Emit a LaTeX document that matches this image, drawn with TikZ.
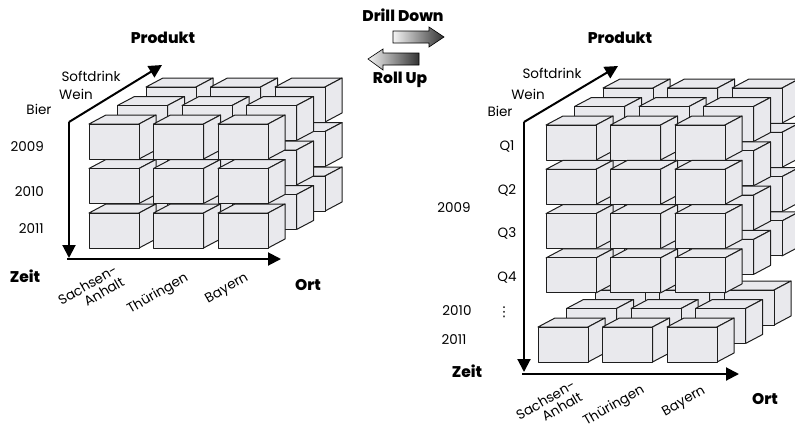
\documentclass[tikz,border=0pt]{standalone}
\usepackage{fontspec}
\setmainfont{Poppins}[BoldFont={Poppins ExtraBold}]
\newfontfamily\symfont{DejaVu Sans}
\usepackage{tikz}
\usetikzlibrary{arrows.meta}
\definecolor{cellgray}{RGB}{233,233,237}
\definecolor{edgegray}{RGB}{30,30,30}

\begin{document}
\begin{tikzpicture}[
				x=1pt, y=-1pt,
				cellface/.style={draw=edgegray, fill=cellgray, line width=1pt, line join=round},
				databox/.pic={
					\draw[cellface] (0,0) -- (17,-9) -- (67,-9) -- (50,0) -- cycle;
					\draw[cellface] (50,0) -- (67,-9) -- (67,26) -- (50,35) -- cycle;
					\draw[cellface] (0,0) rectangle (50,35);
				},
				axis/.style={line width=2pt, -{Triangle[length=13pt,width=13pt]}},
				lbl/.style={font=\fontsize{13.5}{14}\selectfont, inner sep=0pt},
				dimtitle/.style={font=\fontsize{15.5}{18}\selectfont\bfseries, inner sep=0pt},
				city/.style={lbl, rotate=30, align=right},
				flow/.style={draw=black, line width=0.6pt, left color=gray!8, right color=black!80}
				]
				
				\useasboundingbox (0,0) rectangle (795,429);
				\clip (0,0) rectangle (795,429);
				
				% Left cube: layers Softdrink, Wein, Bier (back to front)
				\foreach \l in {2,1,0}
				\foreach \r in {0,1,2}
				\foreach \c in {0,1,2}
				\pic at ({89+64.5*\c+28.5*\l},{124+44.5*\r-18.5*\l}) {databox};
				
				% Right cube: quarters Q1--Q4 of 2009, then 2011
				\foreach \l in {2,1,0} {
					\foreach \r in {0,...,3}
					\foreach \c in {0,1,2}
					\pic at ({546+64.5*\c+28.5*\l},{125+44.3*\r-18.5*\l}) {databox};
					\foreach \c in {0,1,2}
					\pic at ({538+64.5*\c+28.5*\l},{327-18.5*\l}) {databox};
				}
				
				% Axes of the left cube
				\coordinate (lorigin) at (69,122);
				\coordinate (lzeit) at (69,258);
				\coordinate (lprod) at (162,65);
				\coordinate (lcorner) at (67,259);
				\coordinate (lort) at (281,259);
				\draw[axis] (lorigin) -- (lzeit);
				\draw[axis] (lorigin) -- (lprod);
				\draw[axis] (lcorner) -- (lort);
				
				% Axes of the right cube
				\coordinate (rorigin) at (524,122);
				\coordinate (rzeit) at (524,372);
				\coordinate (rprod) at (618,66);
				\coordinate (rcorner) at (522,374);
				\coordinate (rort) at (739,374);
				\draw[axis] (rorigin) -- (rzeit);
				\draw[axis] (rorigin) -- (rprod);
				\draw[axis] (rcorner) -- (rort);
				
				% Labels of the left cube
				\node[dimtitle] (lproduktlbl) at (163,38) {Produkt};
				\node[lbl] (lsoft) at (91,76) {Softdrink};
				\node[lbl] (lwein) at (76,94) {Wein};
				\node[lbl] (lbier) at (39,109) {Bier};
				\node[lbl, anchor=east] (ly09) at (44,147) {2009};
				\node[lbl, anchor=east] (ly10) at (44,192) {2010};
				\node[lbl, anchor=east] (ly11) at (44,229) {2011};
				\node[dimtitle] (lzeitlbl) at (25,276) {Zeit};
				\node[dimtitle] (lortlbl) at (308,285) {Ort};
				\node[city] (lsa) at (91,291) {Sachsen-\\Anhalt};
				\node[city] (lth) at (158,294) {Thüringen};
				\node[city] (lby) at (227,289) {Bayern};
				
				% Drill down / roll up
				\node[dimtitle] (drill) at (403,15) {Drill Down};
				\node[dimtitle] (roll) at (400,80) {Roll Up};
				\shade[flow] (393,31) -- (429,31) -- (429,27) -- (444,37) -- (429,47)
				-- (429,43) -- (393,43) -- cycle;
				\shade[flow] (368,59) -- (383,49) -- (383,53) -- (419,53) -- (419,65)
				-- (383,65) -- (383,70) -- cycle;
				
				% Labels of the right cube
				\node[dimtitle] (rproduktlbl) at (620,38) {Produkt};
				\node[lbl] (rsoft) at (552,73) {Softdrink};
				\node[lbl] (rwein) at (528,94) {Wein};
				\node[lbl] (rbier) at (500,111) {Bier};
				\node[lbl] (rq1) at (507,147) {Q1};
				\node[lbl] (rq2) at (507,190) {Q2};
				\node[lbl] (rq3) at (507,233) {Q3};
				\node[lbl] (rq4) at (507,278) {Q4};
				\node[lbl] (ry09) at (454,208) {2009};
				\node[lbl] (ry10) at (457,311) {2010};
				\node[lbl] (rdots) at (504,312) {{\symfont ⋮}};
				\node[lbl] (ry11) at (454,340) {2011};
				\node[dimtitle] (rzeitlbl) at (467,371) {Zeit};
				\node[dimtitle] (rortlbl) at (765,399) {Ort};
				\node[city] (rsa) at (549,406) {Sachsen-\\Anhalt};
				\node[city] (rth) at (614,406) {Thüringen};
				\node[city] (rby) at (684,402) {Bayern};
				
			\end{tikzpicture}
\end{document}
